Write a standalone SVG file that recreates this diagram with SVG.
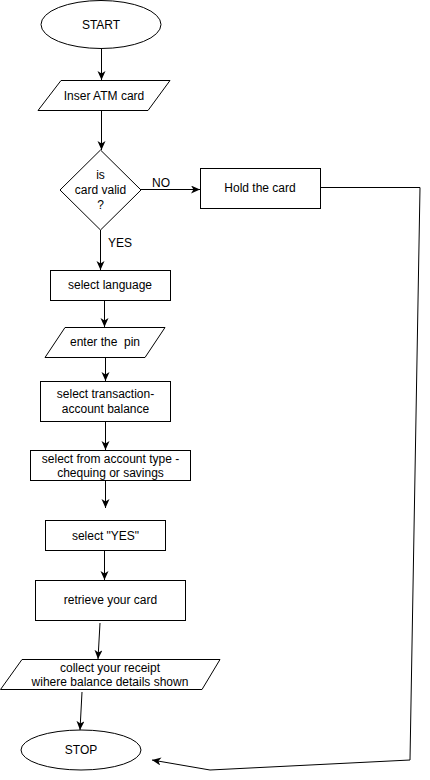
<svg xmlns="http://www.w3.org/2000/svg" width="430" height="780" viewBox="0 0 430 780">
<style>
.s{fill:#fff;stroke:#000;stroke-width:1}
.t{font-family:"Liberation Sans",Arial,sans-serif;font-size:12px;fill:#000;text-anchor:middle;white-space:pre}
.c{fill:none;stroke:#000;stroke-width:1}
</style>
<defs>
<marker id="a" markerUnits="userSpaceOnUse" markerWidth="10" markerHeight="10" refX="9" refY="4" orient="auto">
<path d="M0,0 L9,4 L0,8 L2.5,4 z" fill="#000"/>
</marker>
</defs>
<rect width="430" height="780" fill="#fff"/>
<g id="connectors">
<path class="c" d="M101.5,49 L101.5,80" marker-end="url(#a)"/>
<path class="c" d="M101.5,110 L101.5,150" marker-end="url(#a)"/>
<path class="c" d="M141,189.5 L200,189.5" marker-end="url(#a)"/>
<path class="c" d="M100.5,230 L100.5,270" marker-end="url(#a)"/>
<path class="c" d="M104.5,300 L104.5,327" marker-end="url(#a)"/>
<path class="c" d="M105.5,357 L105.5,381" marker-end="url(#a)"/>
<path class="c" d="M105.5,421 L105.5,450" marker-end="url(#a)"/>
<path class="c" d="M105.5,480 L105.5,508" marker-end="url(#a)"/>
<path class="c" d="M104.5,550 L104.5,580" marker-end="url(#a)"/>
<path class="c" d="M100,623 L98,659" marker-end="url(#a)"/>
<path class="c" d="M82,692 L80,730" marker-end="url(#a)"/>
<path class="c" d="M320,187.5 L420,187.5 L410,760 L210,770 L152,760" marker-end="url(#a)"/>
</g>
<g id="start"><ellipse class="s" cx="101" cy="24.5" rx="60" ry="24"/><text class="t" x="101" y="29">START</text></g>
<g id="insert"><polygon class="s" points="61,80.5 170,80.5 148,110.5 38,110.5"/><text class="t" x="104" y="100">Inser ATM card</text></g>
<g id="valid"><polygon class="s" points="100.5,150 141,190 100.5,230 60,190"/><text class="t" x="100.5" y="179">is</text><text class="t" x="100.5" y="194">card valid</text><text class="t" x="100.5" y="209">?</text></g>
<text class="t" x="161" y="187">NO</text>
<text class="t" x="120" y="247">YES</text>
<g id="hold"><rect class="s" x="200.5" y="168.5" width="120" height="40"/><text class="t" x="260" y="192">Hold the card</text></g>
<g id="language"><rect class="s" x="50.5" y="270.5" width="120" height="30"/><text class="t" x="110" y="289">select language</text></g>
<g id="pin"><polygon class="s" points="65,327.5 165,327.5 145,357.5 45,357.5"/><text class="t" x="105" y="346">enter the  pin</text></g>
<g id="transaction"><rect class="s" x="40.5" y="381.5" width="130" height="40"/><text class="t" x="105.5" y="398">select transaction-</text><text class="t" x="105.5" y="413">account balance</text></g>
<g id="acctype"><rect class="s" x="30.5" y="450.5" width="160" height="30"/><text class="t" x="110.5" y="463">select from account type -</text><text class="t" x="110.5" y="477">chequing or savings</text></g>
<g id="yes"><rect class="s" x="45.5" y="520.5" width="120" height="30"/><text class="t" x="105.5" y="540">select "YES"</text></g>
<g id="retrieve"><rect class="s" x="35.5" y="580.5" width="150" height="40"/><text class="t" x="110.5" y="604">retrieve your card</text></g>
<g id="receipt"><polygon class="s" points="22,659.5 220,659.5 202,689.5 0.5,689.5"/><text class="t" x="110" y="672">collect your receipt</text><text class="t" x="110" y="686">wihere balance details shown</text></g>
<g id="stop"><ellipse class="s" cx="81" cy="750" rx="60" ry="20"/><text class="t" x="81" y="754">STOP</text></g>
</svg>
